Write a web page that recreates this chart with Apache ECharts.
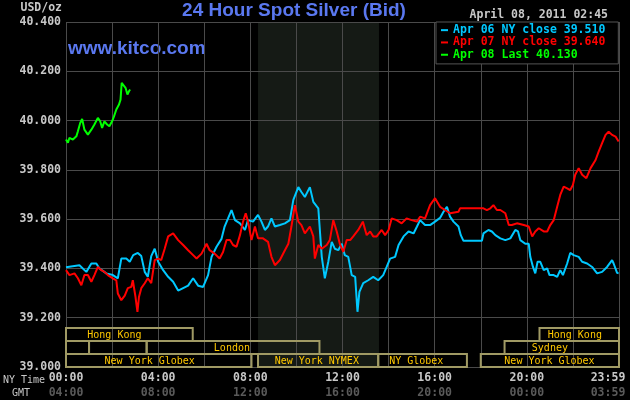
<!DOCTYPE html>
<html><head><meta charset="utf-8">
<script src="https://cdn.jsdelivr.net/npm/echarts@6/dist/echarts.min.js"></script>
<style>html,body{margin:0;padding:0;background:#000}#c{width:630px;height:400px}</style>
</head><body><div id="c"></div>
<script>
// ---- data ----
const seriesNames = ['Apr 06 NY close 39.510', 'Apr 07 NY close 39.640', 'Apr 08 Last 40.130'];
const seriesColors = ['#00c8ff', '#ff0000', '#00ff00'];

// [minute of NY day, price]
const apr06 = [[0,39.405],[35,39.413],[53,39.386],[66,39.42],[79,39.42],[87,39.40],[105,39.38],[122,39.373],[135,39.36],[144,39.44],[157,39.44],[166,39.427],[175,39.454],[187,39.463],[196,39.45],[205,39.386],[213,39.366],[222,39.45],[231,39.48],[240,39.427],[253,39.393],[266,39.366],[279,39.346],[292,39.31],[305,39.32],[318,39.33],[331,39.36],[344,39.33],[357,39.325],[370,39.373],[379,39.447],[392,39.488],[405,39.52],[413,39.57],[422,39.603],[431,39.637],[440,39.596],[453,39.583],[466,39.556],[474,39.596],[487,39.59],[500,39.617],[509,39.59],[518,39.556],[526,39.57],[535,39.603],[544,39.57],[557,39.576],[570,39.583],[583,39.596],[592,39.678],[605,39.73],[613,39.71],[622,39.69],[635,39.73],[644,39.67],[657,39.644],[666,39.447],[674,39.36],[683,39.427],[692,39.508],[700,39.48],[709,39.474],[718,39.5],[726,39.454],[735,39.447],[744,39.373],[753,39.366],[759,39.224],[764,39.305],[774,39.34],[787,39.352],[800,39.366],[813,39.352],[826,39.373],[835,39.406],[844,39.44],[857,39.447],[866,39.495],[879,39.53],[892,39.55],[905,39.542],[914,39.57],[922,39.596],[935,39.576],[948,39.576],[961,39.59],[974,39.605],[983,39.63],[992,39.65],[1000,39.61],[1009,39.59],[1022,39.57],[1028,39.535],[1035,39.512],[1083,39.512],[1087,39.542],[1100,39.556],[1109,39.55],[1118,39.535],[1131,39.522],[1144,39.515],[1157,39.522],[1170,39.556],[1177,39.55],[1183,39.515],[1196,39.5],[1205,39.5],[1209,39.447],[1216,39.406],[1222,39.38],[1228,39.427],[1235,39.427],[1244,39.393],[1253,39.4],[1259,39.373],[1270,39.373],[1279,39.366],[1287,39.393],[1294,39.373],[1305,39.42],[1313,39.463],[1322,39.454],[1335,39.447],[1344,39.427],[1357,39.42],[1370,39.406],[1383,39.38],[1396,39.386],[1409,39.406],[1422,39.434],[1426,39.42],[1435,39.382],[1439,39.38]];

const apr07 = [[0,39.393],[9,39.373],[22,39.38],[31,39.36],[40,39.332],[48,39.373],[57,39.373],[66,39.346],[74,39.373],[83,39.406],[92,39.393],[100,39.386],[109,39.373],[122,39.36],[131,39.352],[135,39.298],[144,39.271],[153,39.29],[161,39.32],[170,39.325],[174,39.352],[181,39.284],[186,39.224],[190,39.284],[196,39.32],[205,39.34],[213,39.36],[222,39.34],[231,39.434],[240,39.44],[248,39.434],[257,39.48],[266,39.53],[279,39.542],[292,39.515],[305,39.495],[318,39.474],[331,39.454],[340,39.44],[353,39.46],[366,39.5],[374,39.474],[387,39.46],[400,39.44],[409,39.467],[418,39.515],[427,39.515],[435,39.495],[444,39.488],[453,39.535],[461,39.59],[468,39.624],[474,39.59],[483,39.515],[492,39.57],[500,39.522],[513,39.522],[526,39.508],[535,39.447],[544,39.413],[557,39.434],[570,39.474],[579,39.5],[587,39.57],[596,39.657],[605,39.59],[613,39.576],[622,39.542],[635,39.57],[644,39.53],[648,39.44],[657,39.495],[666,39.48],[679,39.495],[687,39.515],[696,39.596],[705,39.55],[713,39.5],[722,39.467],[731,39.515],[740,39.515],[748,39.53],[761,39.556],[773,39.59],[783,39.535],[792,39.55],[800,39.53],[809,39.53],[822,39.556],[831,39.535],[840,39.556],[848,39.603],[861,39.596],[874,39.583],[887,39.603],[900,39.596],[914,39.59],[922,39.61],[935,39.603],[948,39.657],[961,39.685],[974,39.65],[987,39.637],[1000,39.624],[1022,39.63],[1026,39.644],[1087,39.644],[1096,39.637],[1105,39.644],[1113,39.657],[1122,39.637],[1131,39.637],[1144,39.624],[1153,39.576],[1161,39.576],[1174,39.583],[1192,39.576],[1205,39.57],[1214,39.53],[1222,39.55],[1231,39.563],[1244,39.55],[1253,39.55],[1261,39.576],[1270,39.596],[1279,39.65],[1287,39.698],[1296,39.732],[1305,39.725],[1313,39.718],[1320,39.739],[1326,39.78],[1335,39.807],[1344,39.78],[1355,39.766],[1366,39.807],[1379,39.84],[1387,39.874],[1396,39.908],[1405,39.942],[1413,39.955],[1422,39.942],[1431,39.935],[1439,39.915]];

const apr08 = [[0,39.923],[5,39.91],[9,39.93],[18,39.923],[27,39.936],[31,39.957],[37,39.99],[42,40.007],[48,39.963],[57,39.943],[66,39.963],[74,39.984],[83,40.011],[89,39.997],[94,39.97],[100,39.997],[107,39.984],[113,39.977],[120,39.997],[125,40.017],[131,40.045],[138,40.065],[142,40.085],[145,40.153],[150,40.153],[155,40.133],[160,40.106],[164,40.119],[167,40.126]];

const nyTickLabels = ['00:00', '04:00', '08:00', '12:00', '16:00', '20:00', '23:59'];
const gmtTickLabels = ['04:00', '08:00', '12:00', '16:00', '20:00', '00:00', '03:59'];

// market sessions (minutes), row 0 = top
const sessionNames = ['Hong Kong', '', '', 'London', 'New York Globex', 'New York NYMEX', 'NY Globex', 'Hong Kong', 'Sydney', 'New York Globex'];
const sessionStart = [0, 0, 60, 210, 0, 500, 813, 1233, 1142, 1080];
const sessionEnd   = [330, 60, 210, 660, 483, 813, 1044, 1440, 1440, 1440];
const sessionRow   = [0, 1, 1, 1, 2, 2, 2, 0, 1, 2];
const sessionLabelAt = [126, 0, 0, 432, 218, 653, 912, 1325, 1260, 1259];
const pitSession = [[500, 815]];

// ---- chart ----
const mono = '"DejaVu Sans Mono", monospace';
const chart = echarts.init(document.getElementById('c'));
const lineSeries = [apr06, apr07, apr08].map((d, i) => ({
  type: 'line', name: seriesNames[i], data: d, showSymbol: false, symbol: 'none',
  color: seriesColors[i], lineStyle: { width: 2, color: seriesColors[i] }, z: 3 + i,
  animation: false
}));

chart.setOption({
  backgroundColor: '#000',
  animation: false,
  grid: { left: 66, right: 11, top: 22, bottom: 33, containLabel: false, outerBoundsMode: 'none' },
  legend: {
    data: seriesNames.map((n, i) => ({ name: n, textStyle: { color: seriesColors[i] } })),
    orient: 'vertical', left: 436, top: 22, icon: 'rect', itemWidth: 7, itemHeight: 2,
    itemGap: 0, padding: [2, 13, 3, 5], backgroundColor: '#000', borderColor: '#555', borderWidth: 1,
    selectedMode: false,
    textStyle: { fontFamily: mono, fontWeight: 'bold', fontSize: 11.5, lineHeight: 12.3 }
  },
  xAxis: {
    type: 'value', min: 0, max: 1440, interval: 120,
    axisLine: { show: false }, axisTick: { show: false },
    splitLine: { show: true, lineStyle: { color: '#4a4a4a', width: 1 } },
    axisLabel: {
      margin: 4,
      formatter: function (v) {
        if (v % 240 !== 0) return '';
        const k = v / 240;
        return k === 6 ? '{c|' + nyTickLabels[k] + '}\n{d|' + gmtTickLabels[k] + '}'
                       : '{a|' + nyTickLabels[k] + '}\n{b|' + gmtTickLabels[k] + '}';
      },
      rich: {
        a: { color: '#c8c8c8', fontFamily: mono, fontWeight: 'bold', fontSize: 11.5, lineHeight: 15 },
        b: { color: '#5a5a5a', fontFamily: mono, fontWeight: 'bold', fontSize: 11.5, lineHeight: 15 },
        c: { color: '#c8c8c8', fontFamily: mono, fontWeight: 'bold', fontSize: 11.5, lineHeight: 15, padding: [0, 22, 0, 0] },
        d: { color: '#5a5a5a', fontFamily: mono, fontWeight: 'bold', fontSize: 11.5, lineHeight: 15, padding: [0, 22, 0, 0] }
      }
    }
  },
  yAxis: {
    type: 'value', min: 39, max: 40.4, interval: 0.2,
    axisLine: { show: false }, axisTick: { show: false },
    splitLine: { show: true, lineStyle: { color: '#4a4a4a', width: 1 } },
    axisLabel: { margin: 5, color: '#c8c8c8', fontFamily: mono, fontWeight: 'bold', fontSize: 11.5,
      formatter: v => v.toFixed(3) }
  },
  graphic: [
    { type: 'text', style: { text: 'USD/oz', x: 62, y: 8, align: 'right', verticalAlign: 'middle', fill: '#c8c8c8', font: 'bold 11.5px ' + mono } },
    { type: 'text', style: { text: '24 Hour Spot Silver (Bid)', x: 294, y: 10.5, align: 'center', verticalAlign: 'middle', fill: '#5a78f0', font: 'bold 19px "Liberation Sans", Arial, sans-serif' } },
    { type: 'text', style: { text: 'www.kitco.com', x: 68, y: 49, align: 'left', verticalAlign: 'middle', fill: '#5a78f0', font: 'bold 19px "Liberation Sans", Arial, sans-serif' } },
    { type: 'text', style: { text: 'April 08, 2011 02:45', x: 608, y: 15, align: 'right', verticalAlign: 'middle', fill: '#c8c8c8', font: 'bold 11.5px ' + mono } },
    { type: 'text', style: { text: 'NY Time', x: 3, y: 380, align: 'left', verticalAlign: 'middle', fill: '#c8c8c8', font: '10px ' + mono } },
    { type: 'text', style: { text: 'GMT', x: 12, y: 393, align: 'left', verticalAlign: 'middle', fill: '#c8c8c8', font: '10px ' + mono } }
  ],
  series: [
    {
      type: 'custom', name: 'pit', z: -1, silent: true, encode: { x: [0, 1] },
      data: pitSession,
      renderItem: function (params, api) {
        const cs = params.coordSys;
        const x0 = api.coord([api.value(0), 39])[0];
        const x1 = api.coord([api.value(1), 39])[0];
        return { type: 'rect', shape: { x: x0, y: cs.y, width: x1 - x0, height: cs.height }, style: { fill: '#151a15' } };
      }
    },
    ...lineSeries,
    {
      type: 'custom', name: 'sessions', z: 6, silent: true, encode: { x: [0, 1] },
      data: sessionStart.map((s, i) => [s, sessionEnd[i], sessionRow[i]]),
      renderItem: function (params, api) {
        const cs = params.coordSys;
        const i = params.dataIndex;
        const x0 = Math.max(cs.x, api.coord([api.value(0), 39])[0]);
        const x1 = Math.min(cs.x + cs.width, api.coord([api.value(1), 39])[0]);
        const rowH = 13;
        const top = cs.y + cs.height - (3 - api.value(2)) * rowH;
        const children = [{ type: 'rect', shape: { x: x0, y: top, width: x1 - x0, height: rowH },
          style: { fill: 'none', stroke: '#a09a64', lineWidth: 2 } }];
        if (sessionNames[i]) {
          children.push({ type: 'text', style: { text: sessionNames[i], x: api.coord([sessionLabelAt[i], 39])[0],
            y: top + rowH / 2 + 0.5, align: 'center', verticalAlign: 'middle', fill: '#ffc800', font: '10px ' + mono } });
        }
        return { type: 'group', children: children };
      }
    }
  ]
});
</script>
</body></html>
